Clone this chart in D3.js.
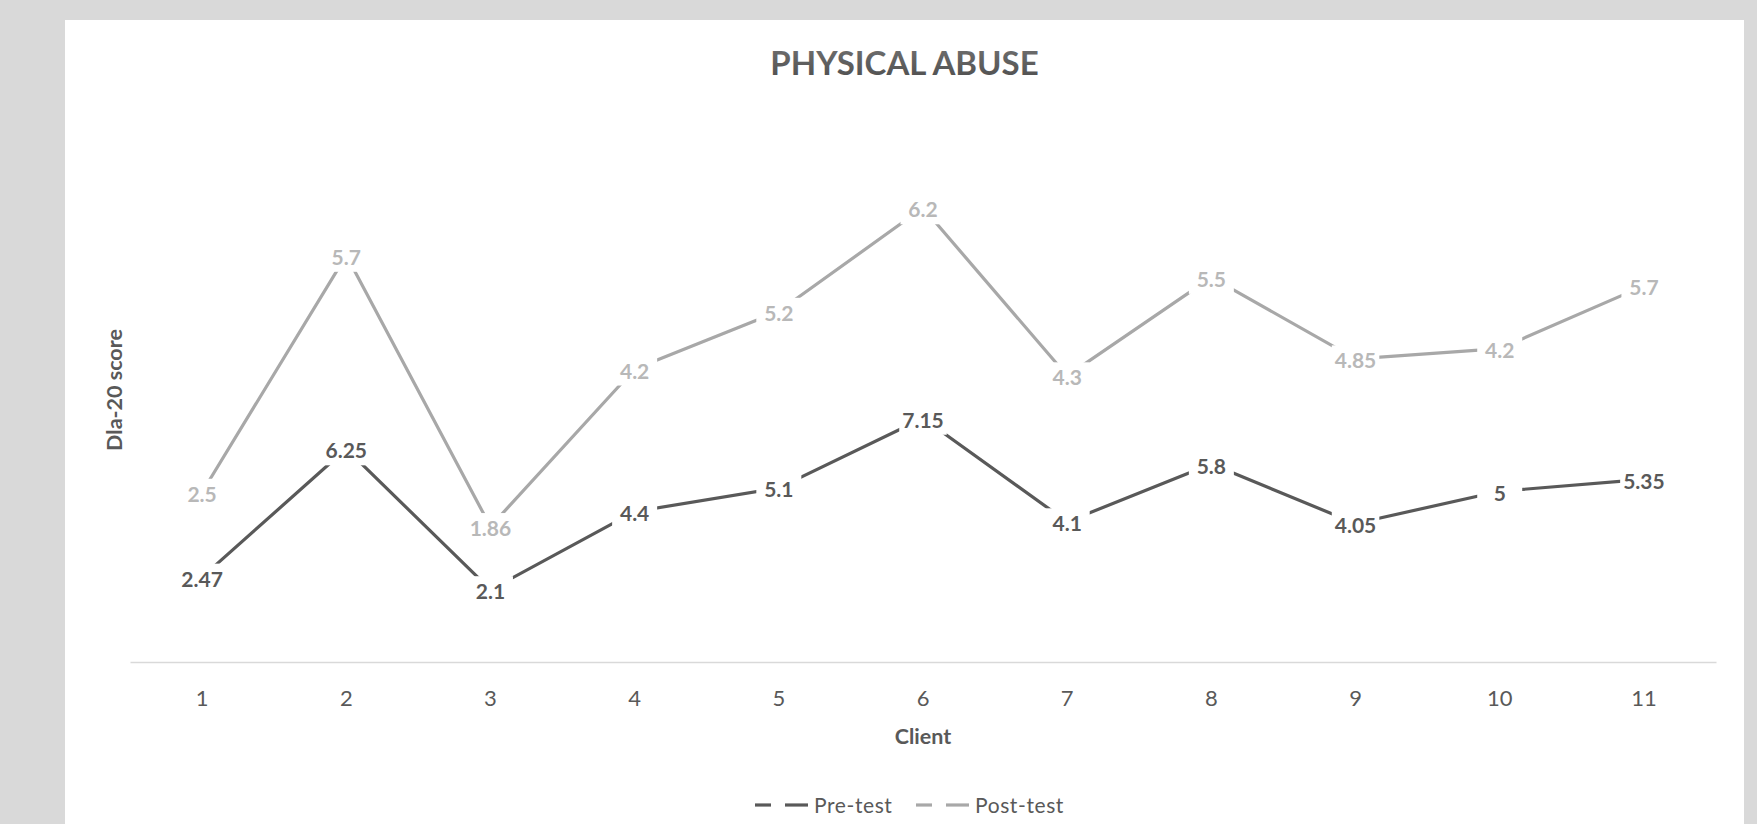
<!DOCTYPE html>
<html>
<head>
<meta charset="utf-8">
<script src="https://cdn.jsdelivr.net/npm/d3@7"></script>
<style>
  html, body { margin: 0; padding: 0; background: #d9d9d9; }
  svg { display: block; }
  text { font-family: Lato, "Open Sans", sans-serif; }
</style>
</head>
<body>
<svg id="chart" width="1757" height="824"></svg>
<script>
// ---- data ----
const clients = ["1","2","3","4","5","6","7","8","9","10","11"];
const preTest  = [2.47, 6.25, 2.1, 4.4, 5.1, 7.15, 4.1, 5.8, 4.05, 5, 5.35];
const postTest = [2.5, 5.7, 1.86, 4.2, 5.2, 6.2, 4.3, 5.5, 4.85, 4.2, 5.7];
const seriesNames = ["Pre-test", "Post-test"];
const yDomain = [0, 16];
const chartTitle = "PHYSICAL ABUSE";
const xTitle = "Client";
const yTitle = "Dla-20 score";

// ---- layout ----
const W = 1757, H = 824;
const svg = d3.select("#chart");

svg.append("rect").attr("x", 0).attr("y", 0).attr("width", W).attr("height", H).attr("fill", "#d9d9d9");
svg.append("rect").attr("x", 65).attr("y", 20).attr("width", 1744 - 65).attr("height", H - 20).attr("fill", "#ffffff");

const defs = svg.append("defs");
const grad = defs.append("linearGradient").attr("id", "titleGrad").attr("x1", 0).attr("y1", 0).attr("x2", 0).attr("y2", 1);
grad.append("stop").attr("offset", "0%").attr("stop-color", "#737373");
grad.append("stop").attr("offset", "100%").attr("stop-color", "#4d4d4d");

const x = d3.scaleBand().domain(clients).range([130, 1716]).padding(0);
const y = d3.scaleLinear().domain(yDomain).range([661, 661 - 16 * 33.95]);
const cx = c => x(c) + x.bandwidth() / 2;

// stacked line (Excel "stacked line"): post plotted on top of pre
const preStack = preTest.map(v => v);
const postStack = postTest.map((v, i) => preTest[i] + v);

const series = [
  { name: seriesNames[0], values: preTest, stacked: preStack, line: "#595959", label: "#595959" },
  { name: seriesNames[1], values: postTest, stacked: postStack, line: "#a8a8a8", label: "#b8b8b8" }
];

// title
svg.append("text")
  .attr("x", 904.5).attr("y", 75)
  .attr("text-anchor", "middle")
  .attr("font-size", 33).attr("font-weight", 700)
  .attr("fill", "url(#titleGrad)")
  .text(chartTitle);

// x axis
const xAxis = d3.axisBottom(x).tickSize(0).tickPadding(28.5);
const gx = svg.append("g").attr("transform", "translate(0,662)").call(xAxis);
gx.select(".domain").attr("stroke", "#d9d9d9").attr("stroke-width", 1.6);
gx.selectAll(".tick text")
  .attr("font-family", "Lato, 'Open Sans', sans-serif")
  .attr("font-size", 22).attr("fill", "#595959");

// axis titles
svg.append("text")
  .attr("x", 923).attr("y", 744)
  .attr("text-anchor", "middle")
  .attr("font-size", 21.5).attr("font-weight", 700).attr("fill", "#595959")
  .text(xTitle);

svg.append("text")
  .attr("transform", "translate(122,390) rotate(-90)")
  .attr("text-anchor", "middle")
  .attr("font-size", 21.5).attr("font-weight", 700).attr("fill", "#595959")
  .text(yTitle);

// lines
const lineGen = d3.line().x(d => cx(d.c)).y(d => y(d.v));
series.forEach(s => {
  const pts = clients.map((c, i) => ({ c, v: s.stacked[i] }));
  svg.append("path")
    .datum(pts)
    .attr("d", lineGen)
    .attr("fill", "none")
    .attr("stroke", s.line)
    .attr("stroke-width", 3.2)
    .attr("stroke-linejoin", "round");
});

// data labels with white boxes that mask the line
series.forEach(s => {
  const g = svg.append("g");
  clients.forEach((c, i) => {
    const px = cx(c), py = y(s.stacked[i]);
    const lg = g.append("g");
    const rect = lg.append("rect").attr("fill", "#ffffff");
    const t = lg.append("text")
      .attr("x", px).attr("y", py + 2 + 7.5)
      .attr("text-anchor", "middle")
      .attr("font-size", 21).attr("font-weight", 700)
      .attr("fill", s.label)
      .text(String(s.values[i]));
    const tw = t.node().getComputedTextLength();
    const bw = Math.max(tw + 6, 45), bh = 30;
    rect.attr("x", px - bw / 2).attr("y", py + 1.5 - bh / 2).attr("width", bw).attr("height", bh);
  });
});

// legend
const legendItems = [
  { name: seriesNames[0], color: "#595959", x0: 755 },
  { name: seriesNames[1], color: "#a8a8a8", x0: 916 }
];
const ly = 805;
legendItems.forEach(it => {
  const g = svg.append("g");
  g.append("line").attr("x1", it.x0).attr("x2", it.x0 + 16).attr("y1", ly).attr("y2", ly)
    .attr("stroke", it.color).attr("stroke-width", 3.2);
  g.append("line").attr("x1", it.x0 + 30).attr("x2", it.x0 + 53).attr("y1", ly).attr("y2", ly)
    .attr("stroke", it.color).attr("stroke-width", 3.2);
  g.append("text").attr("x", it.x0 + 59).attr("y", ly + 7.5)
    .attr("font-size", 21).attr("fill", "#595959")
    .attr("letter-spacing", 0.6)
    .text(it.name);
});
</script>
</body>
</html>
